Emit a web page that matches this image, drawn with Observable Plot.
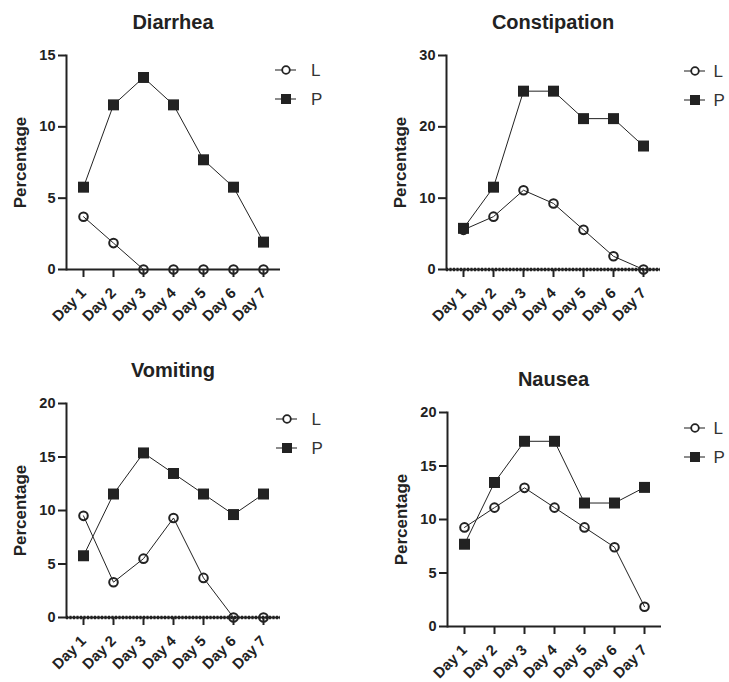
<!DOCTYPE html>
<html><head><meta charset="utf-8">
<script src="https://cdn.jsdelivr.net/npm/d3@7"></script>
<script src="https://cdn.jsdelivr.net/npm/@observablehq/plot@0.6"></script>
<style>
body{margin:0;background:#fff;}
#root{position:relative;width:729px;height:682px;font-family:"Liberation Sans",Arial,Helvetica,sans-serif;color:#222;overflow:hidden;}
.title{position:absolute;font-weight:bold;font-size:20px;transform:translate(-50%,-50%);white-space:nowrap;color:#222;}
.panel{position:absolute;}
.legend{position:absolute;}
</style></head><body><div id="root"></div>
<script>
const days = ["Day 1","Day 2","Day 3","Day 4","Day 5","Day 6","Day 7"];
const titles = ["Diarrhea","Constipation","Vomiting","Nausea"];
const seriesNames = ["L","P"];
const yMax = [15,30,20,20];
const yTicks = [[0,5,10,15],[0,10,20,30],[0,5,10,15,20],[0,5,10,15,20]];
const dottedZero = [false,true,true,false];

const diarrheaL = [3.7,1.85,0,0,0,0,0];
const diarrheaP = [5.77,11.54,13.46,11.54,7.69,5.77,1.92];
const constipationL = [5.56,7.41,11.11,9.26,5.56,1.85,0];
const constipationP = [5.77,11.54,25.0,25.0,21.15,21.15,17.31];
const vomitingL = [9.5,3.3,5.5,9.3,3.7,0,0];
const vomitingP = [5.77,11.54,15.38,13.46,11.54,9.62,11.54];
const nauseaL = [9.26,11.11,12.96,11.11,9.26,7.41,1.85];
const nauseaP = [7.69,13.46,17.31,17.31,11.54,11.54,13.0];

const seriesL = [diarrheaL, constipationL, vomitingL, nauseaL];
const seriesP = [diarrheaP, constipationP, vomitingP, nauseaP];

// layout: frame top-left corner of each panel, legend anchor (circle centre of first row), text offset
const frames = [{left:66,top:55},{left:446,top:55},{left:66,top:403},{left:446.5,top:412}];
const legends = [{x:286,y:69.5,tx:25},{x:695,y:71,tx:18.5},{x:287,y:419,tx:24.5},{x:695,y:427.7,tx:18.5}];

const FONT = '"Liberation Sans",Arial,Helvetica,sans-serif';
const root = document.getElementById("root");
const ML = 66, MT = 15, MR = 20, MB = 71, FW = 214, FH = 214;

for (let i = 0; i < 4; i++) {
  const data = [];
  days.forEach((d, j) => {
    data.push({day: d, v: seriesL[i][j], s: seriesNames[0]});
    data.push({day: d, v: seriesP[i][j], s: seriesNames[1]});
  });
  const svg = Plot.plot({
    width: ML + FW + MR, height: MT + FH + MB,
    marginLeft: ML, marginRight: MR, marginTop: MT, marginBottom: MB,
    style: {fontFamily: FONT, color: "#222", background: "transparent", overflow: "visible"},
    x: {type: "point", domain: days, padding: 0.5},
    y: {domain: [0, yMax[i]]},
    marks: [
      Plot.axisY({ticks: yTicks[i], tickSize: 8, tickPadding: 3, fontSize: 14.5, fontWeight: "bold", strokeWidth: 2, label: null}),
      Plot.axisX({tickSize: 8, tickPadding: 13, tickRotate: -45, fontSize: 15, fontWeight: "bold", strokeWidth: 2, label: null}),
      Plot.text(["Percentage"], {frameAnchor: "left", textAnchor: "middle", rotate: -90, dx: -46, fontSize: 17, fontWeight: "bold", fill: "#222"}),
      Plot.ruleY([0], {strokeWidth: 2, stroke: "#222"}),
      Plot.frame({anchor: "left", strokeWidth: 2, stroke: "#222"}),
      dottedZero[i] ? Plot.ruleY([0], {strokeWidth: 3.5, stroke: "#222", strokeDasharray: "2,1.5"}) : null,
      Plot.line(data, {x: "day", y: "v", z: "s", stroke: "#222", strokeWidth: 1}),
      Plot.dot(data.filter(d => d.s === "P"), {x: "day", y: "v", symbol: "square", fill: "#222", r: 6.2}),
      Plot.dot(data.filter(d => d.s === "L"), {x: "day", y: "v", symbol: "circle", fill: "none", stroke: "#222", strokeWidth: 2, r: 4.3})
    ]
  });
  svg.classList.add("panel");
  svg.style.left = (frames[i].left - ML) + "px";
  svg.style.top = (frames[i].top - MT) + "px";
  root.appendChild(svg);

  const t = document.createElement("div");
  t.className = "title";
  t.textContent = titles[i];
  t.style.left = (frames[i].left + FW / 2) + "px";
  t.style.top = (frames[i].top - 33) + "px";
  root.appendChild(t);

  // legend
  const lg = legends[i];
  const ns = "http://www.w3.org/2000/svg";
  const ls = document.createElementNS(ns, "svg");
  ls.setAttribute("width", 60); ls.setAttribute("height", 50);
  ls.classList.add("legend");
  ls.style.left = (lg.x - 12) + "px";
  ls.style.top = (lg.y - 12) + "px";
  seriesNames.forEach((name, k) => {
    const cy = 12 + k * 29;
    const line = document.createElementNS(ns, "line");
    line.setAttribute("x1", 1); line.setAttribute("x2", 22);
    line.setAttribute("y1", cy); line.setAttribute("y2", cy);
    line.setAttribute("stroke", "#666"); line.setAttribute("stroke-width", 1.5);
    ls.appendChild(line);
    if (k === 0) {
      const c = document.createElementNS(ns, "circle");
      c.setAttribute("cx", 12); c.setAttribute("cy", cy); c.setAttribute("r", 3.8);
      c.setAttribute("fill", "#fff"); c.setAttribute("stroke", "#222"); c.setAttribute("stroke-width", 1.8);
      ls.appendChild(c);
    } else {
      const r = document.createElementNS(ns, "rect");
      r.setAttribute("x", 7); r.setAttribute("y", cy - 5); r.setAttribute("width", 10); r.setAttribute("height", 10);
      r.setAttribute("fill", "#222");
      ls.appendChild(r);
    }
    const tx = document.createElementNS(ns, "text");
    tx.setAttribute("x", 12 + lg.tx); tx.setAttribute("y", cy);
    tx.setAttribute("dy", "0.36em");
    tx.setAttribute("font-size", 17); tx.setAttribute("font-family", FONT);
    tx.setAttribute("fill", "#333");
    tx.textContent = name;
    ls.appendChild(tx);
  });
  root.appendChild(ls);
}
</script></body></html>
